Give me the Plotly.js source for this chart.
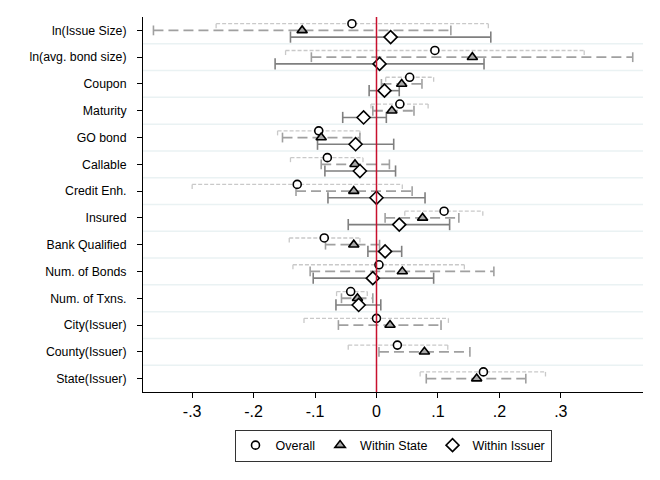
<!DOCTYPE html>
<html>
<head>
<meta charset="utf-8">
<script src="https://cdn.plot.ly/plotly-3.0.1.min.js"></script>
<style>html,body{margin:0;padding:0;background:#fff;}#chart{width:660px;height:480px;}</style>
</head>
<body>
<div id="chart"></div>
<script>
const categories = ["ln(Issue Size)", "ln(avg. bond size)", "Coupon", "Maturity", "GO bond", "Callable",
  "Credit Enh.", "Insured", "Bank Qualified", "Num. of Bonds", "Num. of Txns.", "City(Issuer)",
  "County(Issuer)", "State(Issuer)"];

const overall    = [-0.040, 0.095, 0.054, 0.038, -0.094, -0.080, -0.129, 0.110, -0.085, 0.004, -0.042, 0.000, 0.034, 0.174];
const overallLo  = [-0.261, -0.148, 0.015, -0.009, -0.161, -0.140, -0.300, 0.046, -0.142, -0.136, -0.065, -0.118, -0.046, 0.071];
const overallHi  = [0.182, 0.338, 0.093, 0.084, -0.027, -0.022, 0.042, 0.173, -0.027, 0.143, -0.015, 0.117, 0.116, 0.275];

const withinState   = [-0.121, 0.156, 0.041, 0.025, -0.090, -0.035, -0.037, 0.075, -0.037, 0.042, -0.031, 0.022, 0.078, 0.163];
const withinStateLo = [-0.363, -0.106, 0.008, -0.006, -0.153, -0.090, -0.131, 0.014, -0.083, -0.108, -0.057, -0.062, 0.004, 0.081];
const withinStateHi = [0.121, 0.417, 0.074, 0.061, -0.027, 0.021, 0.058, 0.134, 0.005, 0.191, -0.006, 0.105, 0.152, 0.243];

const withinIssuer   = [0.023, 0.005, 0.013, -0.021, -0.034, -0.027, 0.000, 0.037, 0.014, -0.006, -0.029, null, null, null];
const withinIssuerLo = [-0.140, -0.165, -0.012, -0.055, -0.096, -0.084, -0.079, -0.046, -0.014, -0.103, -0.066, null, null, null];
const withinIssuerHi = [0.186, 0.175, 0.037, 0.016, 0.028, 0.031, 0.079, 0.119, 0.041, 0.093, 0.007, null, null, null];

const xTickVals = [-0.3, -0.2, -0.1, 0, 0.1, 0.2, 0.3];
const xTickText = ["-.3", "-.2", "-.1", "0", ".1", ".2", ".3"];

const pos = categories.map((c, i) => i + 1);

function ciLine(lo, hi, off) {
  const xs = [], ys = [];
  lo.forEach((l, i) => {
    if (l === null || hi[i] === null) return;
    xs.push(l, hi[i], null);
    ys.push(pos[i] + off, pos[i] + off, null);
  });
  return {x: xs, y: ys};
}
function ends(lo, hi, off) {
  const xs = [], ys = [];
  lo.forEach((l, i) => {
    if (l === null || hi[i] === null) return;
    xs.push(l, hi[i]);
    ys.push(pos[i] + off, pos[i] + off);
  });
  return {x: xs, y: ys};
}

const series = [
  {name: "Overall", v: overall, lo: overallLo, hi: overallHi, off: -0.25,
   line: {color: "#c9c9c9", width: 1.3, dash: "4px,2px"},
   marker: {symbol: "circle", size: 8, color: "#ffffff", line: {color: "#000000", width: 1.6}}},
  {name: "Within State", v: withinState, lo: withinStateLo, hi: withinStateHi, off: 0,
   line: {color: "#a0a0a0", width: 1.8, dash: "10px,5px"},
   marker: {symbol: "triangle-up", size: 9, color: "#a8a8a8", line: {color: "#000000", width: 1.6}}},
  {name: "Within Issuer", v: withinIssuer, lo: withinIssuerLo, hi: withinIssuerHi, off: 0.25,
   line: {color: "#7f7f7f", width: 1.6, dash: "solid"},
   marker: {symbol: "diamond", size: 10, color: "#ffffff", line: {color: "#000000", width: 1.6}}}
];

const traces = [];
series.forEach((s, k) => {
  const l = ciLine(s.lo, s.hi, s.off);
  traces.push({type: "scatter", mode: "lines", x: l.x, y: l.y, line: s.line,
    showlegend: false, hoverinfo: "skip", connectgaps: false});
  const e = ends(s.lo, s.hi, s.off);
  if (k === 0) {
    traces.push({type: "scatter", mode: "markers", x: e.x, y: e.y,
      marker: {size: 1, color: "rgba(0,0,0,0)"}, showlegend: false, hoverinfo: "skip",
      error_y: {type: "constant", symmetric: false, value: 0.17, valueminus: 0,
        color: s.line.color, thickness: 1.3, width: 0}});
  } else {
    traces.push({type: "scatter", mode: "markers", x: e.x, y: e.y,
      marker: {symbol: "line-ns", size: k === 1 ? 7 : 8, line: {color: s.line.color, width: 1.6}},
      showlegend: false, hoverinfo: "skip"});
  }
});
series.forEach(s => {
  traces.push({type: "scatter", mode: "markers", name: s.name,
    x: s.v, y: pos.map(p => p + s.off), marker: s.marker, showlegend: true});
});

const shapes = [];
for (let i = 1; i < categories.length; i++) {
  shapes.push({type: "line", xref: "paper", x0: 0, x1: 1, yref: "y", y0: i + 0.5, y1: i + 0.5,
    line: {color: "#eaf2f3", width: 1.5}, layer: "below"});
}
shapes.push({type: "line", xref: "x", x0: 0, x1: 0, yref: "paper", y0: 0, y1: 1,
  line: {color: "#c8102e", width: 1.5}, layer: "above"});

const layout = {
  width: 660, height: 480,
  margin: {l: 143, r: 17, t: 17, b: 88},
  paper_bgcolor: "#ffffff", plot_bgcolor: "#ffffff",
  font: {family: "Liberation Sans, Arial, sans-serif", color: "#000000"},
  showlegend: true,
  xaxis: {range: [-0.380, 0.4337], tickvals: xTickVals, ticktext: xTickText,
    showgrid: false, zeroline: false, showline: true, linecolor: "#000000", linewidth: 1,
    ticks: "outside", ticklen: 5, tickcolor: "#000000", tickfont: {size: 16}},
  yaxis: {range: [14.5, 0.5], tickvals: pos, ticktext: categories,
    showgrid: false, zeroline: false, showline: true, linecolor: "#000000", linewidth: 1,
    ticks: "outside", ticklen: 5, tickcolor: "#000000", tickfont: {size: 12.3},
    ticklabelstandoff: 8},
  legend: {orientation: "h", x: 0.5, xanchor: "center", y: -0.1, yanchor: "top",
    bordercolor: "#333333", borderwidth: 1, font: {size: 12.5}, itemwidth: 30},
  shapes: shapes
};

Plotly.newPlot("chart", traces, layout, {displayModeBar: false, staticPlot: true});
</script>
</body>
</html>
